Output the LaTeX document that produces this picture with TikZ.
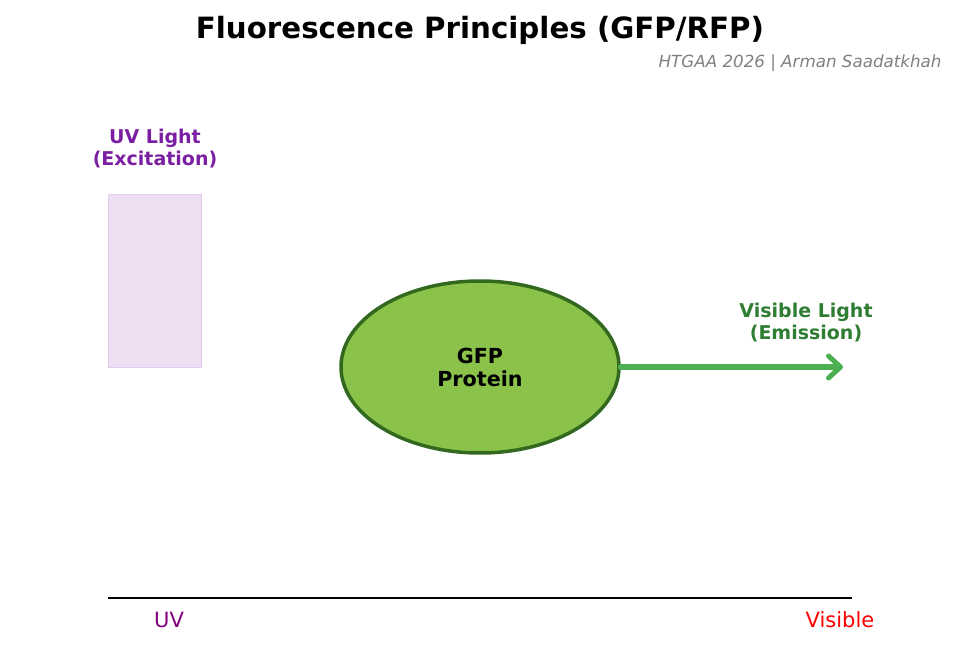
\documentclass[tikz,border=0pt]{standalone}
\usepackage{fontspec}
\setmainfont{DejaVu Sans}
\usetikzlibrary{arrows.meta,shapes.geometric}
\definecolor{uvp}{HTML}{7B1FA2}
\definecolor{vg}{HTML}{2E7D32}
\definecolor{gfill}{HTML}{8BC34A}
\definecolor{gline}{HTML}{33691E}
\definecolor{arr}{HTML}{4CAF50}
\definecolor{rfill}{HTML}{EEDEF1}
\definecolor{rline}{HTML}{E6C8EE}
\tikzset{lbl/.style={font=\fontsize{19}{22}\selectfont\bfseries,align=center}}
\begin{document}
\begin{tikzpicture}[x=1pt,y=-1pt]
\useasboundingbox (0,0) rectangle (959,671);
\node[font=\fontsize{29.3}{32}\selectfont\bfseries] (title) at (480,30) {Fluorescence Principles (GFP/RFP)};
\node[font=\fontsize{16.7}{18}\selectfont\itshape,text=gray,anchor=east] (sub) at (945,63) {HTGAA 2026 | Arman Saadatkhah};
\node[lbl,text=uvp] (uvl) at (155,149) {UV Light\\(Excitation)};
\node[draw=rline,fill=rfill,minimum width=93,minimum height=173,inner sep=0] (rect) at (154.5,280.5) {};
\node[ellipse,draw=gline,line width=3.5,fill=gfill,minimum width=278,minimum height=172,inner sep=0,lbl,font=\fontsize{20.7}{23}\selectfont\bfseries] (gfp) at (480,367) {GFP\\Protein};
\coordinate (tip) at (843,367);
\draw[arr,line width=6,line cap=round,-{Straight Barb[length=12,width=22,line width=5,round]}] (gfp.east) -- (tip);
\node[lbl,text=vg] (vl) at (806,323) {Visible Light\\(Emission)};
\coordinate (a0) at (108,598);
\coordinate (a1) at (852,598);
\draw[line width=1.5] (a0) -- (a1);
\node[font=\fontsize{21}{24}\selectfont,text={rgb,255:red,128;green,0;blue,128}] (uv) at (169,620) {UV};
\node[font=\fontsize{21}{24}\selectfont,text=red] (vis) at (840,620) {Visible};
\end{tikzpicture}
\end{document}
